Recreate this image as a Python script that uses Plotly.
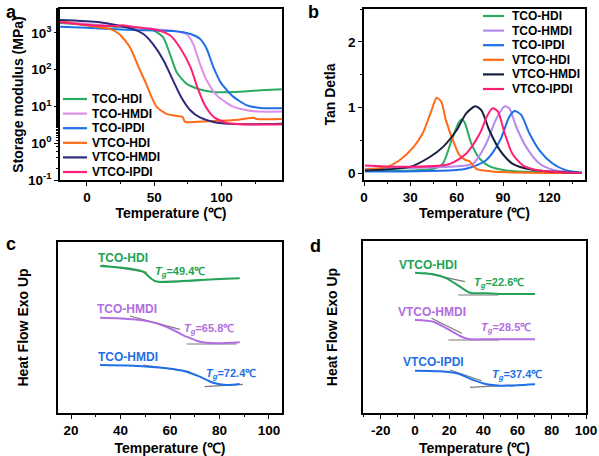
import plotly.graph_objects as go

FONT = "Arial, 'Liberation Sans', sans-serif"
W, H = 599, 456

# ---------------- data: panel a (storage modulus, MPa) ----------------
names = ["TCO-HDI", "TCO-HMDI", "TCO-IPDI", "VTCO-HDI", "VTCO-HMDI", "VTCO-IPDI"]
colors_a = ["#2bab62", "#de8eea", "#1f6fe6", "#ff6a14", "#2d2a7c", "#ff1f74"]
colors_b = ["#2bab62", "#b58af0", "#1f6fe6", "#ff6a14", "#16213e", "#ff1f74"]

a_T = [
    [-20, 0, 20, 40, 49, 56.7, 61.7, 66.7, 74, 84, 94, 109, 129, 145],
    [-20, 0, 20, 40, 64, 74, 79, 84, 89, 96.5, 109, 124, 145],
    [-20, 0, 34, 64, 77, 84, 89, 94, 100, 109, 119, 129, 145],
    [-20, 0, 17, 24, 32, 39, 44, 48, 52, 59, 69, 71, 73, 90, 110, 124, 126, 145],
    [-20, 9.5, 34, 42, 49, 57, 64, 70, 77, 84, 94, 109, 145],
    [-20, -3, 22, 26, 34, 52, 62, 69, 77, 82, 87, 94, 104, 124, 145],
]
a_logE = [
    [3.27, 3.22, 3.17, 3.12, 3.08, 2.88, 2.43, 1.93, 1.62, 1.46, 1.39, 1.39, 1.44, 1.47],
    [3.30, 3.24, 3.19, 3.13, 3.06, 2.97, 2.70, 2.16, 1.71, 1.30, 0.99, 0.87, 0.86],
    [3.17, 3.14, 3.08, 3.05, 2.97, 2.84, 2.57, 2.07, 1.62, 1.26, 1.03, 0.96, 0.95],
    [3.32, 3.20, 3.11, 2.97, 2.61, 2.02, 1.62, 1.26, 0.98, 0.80, 0.73, 0.72, 0.58, 0.60, 0.63, 0.69, 0.66, 0.66],
    [3.35, 3.29, 3.11, 2.97, 2.70, 2.25, 1.71, 1.26, 0.89, 0.70, 0.58, 0.52, 0.53],
    [3.29, 3.23, 3.19, 3.21, 3.17, 3.08, 2.93, 2.61, 2.07, 1.53, 1.08, 0.72, 0.55, 0.51, 0.51],
]
a_ytickvals = [0.1, 1, 10, 100, 1000]
a_yticktext = ["10<sup>-1</sup>", "10<sup>0</sup>", "10<sup>1</sup>", "10<sup>2</sup>", "10<sup>3</sup>"]

# ---------------- data: panel b (tan delta) ----------------
b_T = [
    [0.6, 45, 51, 56.6, 61, 63, 65, 69.5, 75, 81, 92, 141],
    [0.6, 55, 70.5, 79, 85.6, 91, 94, 98.5, 105, 113.5, 122, 141],
    [0.6, 66, 79, 88, 94, 97.4, 101.7, 107, 113.5, 122, 131, 141],
    [0.6, 14.6, 23, 32, 38, 43.7, 47, 50, 53, 57.6, 62, 66, 68, 72.7, 83, 141],
    [0.6, 29.7, 42.6, 51, 60, 66, 72, 76, 81, 88, 96, 109, 141],
    [0.6, 23, 55, 66, 75, 80, 83.4, 86.7, 91, 96, 103, 113.5, 141],
]
b_tan = [
    [0.036, 0.07, 0.15, 0.50, 0.76, 0.82, 0.78, 0.45, 0.22, 0.11, 0.045, 0.005],
    [0.07, 0.10, 0.15, 0.45, 0.83, 1.02, 0.99, 0.71, 0.40, 0.15, 0.056, 0.005],
    [0.03, 0.07, 0.20, 0.50, 0.86, 0.95, 0.89, 0.61, 0.35, 0.15, 0.046, 0.015],
    [0.056, 0.097, 0.20, 0.40, 0.61, 0.96, 1.15, 1.09, 0.81, 0.50, 0.27, 0.20, 0.19, 0.07, 0.03, 0.005],
    [0.046, 0.10, 0.25, 0.40, 0.66, 0.91, 1.02, 0.96, 0.66, 0.35, 0.15, 0.056, 0.005],
    [0.12, 0.10, 0.14, 0.30, 0.61, 0.89, 0.99, 0.94, 0.61, 0.30, 0.12, 0.046, 0.005],
]

# ---------------- data: panel c (DSC, TCO series) ----------------
c_labels = ["TCO-HDI", "TCO-HMDI", "TCO-HMDI"]
c_tg = ["49.4", "65.8", "72.4"]
c_colors = ["#22a454", "#b16ee0", "#1f6fe6"]
c_T = [
    [31.7, 38.4, 45.1, 49.2, 51.2, 53.2, 55.2, 61.3, 72.1, 88.2],
    [31.7, 45.1, 54.6, 61.3, 66.7, 72.1, 78.8, 88.2],
    [31.7, 45.1, 58.5, 66.7, 72.1, 77.4, 82.8, 88.2],
]
c_hf = [
    [14.70, 14.57, 14.37, 14.13, 13.70, 13.30, 13.13, 13.13, 13.30, 13.47],
    [9.53, 9.37, 8.97, 8.30, 7.63, 7.13, 6.97, 7.07],
    [4.80, 4.73, 4.47, 4.13, 3.63, 3.03, 2.80, 2.90],
]
c_tan_T = [[[32.4, 50.6], [53.5, 72.4]], [[43.8, 64.0], [66.7, 86.9]], [[49.2, 68.0], [74.0, 89.5]]]
c_tan_hf = [[[14.80, 14.07], [13.13, 13.23]], [[9.70, 8.37], [6.90, 6.90]], [[4.80, 4.13], [2.63, 2.87]]]
c_label_pos = [(40.8, 15.5), (42.8, 10.4), (43.2, 5.6)]
c_tg_pos = [(64.2, 14.1), (75.9, 8.4), (84.8, 3.9)]

# ---------------- data: panel d (DSC, VTCO series) ----------------
d_labels = ["VTCO-HDI", "VTCO-HMDI", "VTCO-IPDI"]
d_tg = ["22.6", "28.5", "37.4"]
d_colors = ["#22a454", "#b16ee0", "#1f6fe6"]
d_T = [
    [0, 10.7, 18.5, 26.3, 32.2, 41.9, 49.7, 70.2],
    [0, 10.7, 18.5, 26.3, 31.2, 41.9, 70.2],
    [0, 14.6, 24.4, 34.1, 41.9, 49.7, 59.5, 70.2],
]
d_hf = [
    [14.03, 13.87, 13.47, 12.63, 12.03, 11.97, 11.90, 11.90],
    [9.30, 9.13, 8.47, 7.70, 7.40, 7.37, 7.37],
    [4.23, 4.17, 3.97, 3.30, 2.87, 2.73, 2.77, 2.87],
]
d_tan_T = [[[4.9, 29.2], [25.3, 48.7]], [[9.7, 27.3], [19.5, 48.7]], [[20.5, 39.0], [32.2, 57.5]]]
d_tan_hf = [[[14.03, 13.13], [11.80, 11.80]], [[9.47, 7.97], [7.30, 7.30]], [[4.30, 3.23], [2.57, 2.80]]]
d_label_pos = [(7.6, 14.8), (9.9, 10.1), (11.1, 5.1)]
d_tg_pos = [(49.4, 13.0), (53.5, 8.5), (59.4, 3.8)]

# ---------------- figure ----------------
fig = go.Figure()

def px_x(p):
    return p / W

def px_y(p):
    return 1 - p / H

def bfont(size, color="black"):
    return dict(family=FONT, size=size, color=color, weight="bold")

# panel a
for i, n in enumerate(names):
    fig.add_trace(go.Scatter(x=a_T[i], y=[10 ** v for v in a_logE[i]], mode="lines",
                             line=dict(color=colors_a[i], width=2, shape="spline", smoothing=0.6),
                             name=n, showlegend=False, xaxis="x", yaxis="y"))
# panel b
for i, n in enumerate(names):
    fig.add_trace(go.Scatter(x=b_T[i], y=b_tan[i], mode="lines",
                             line=dict(color=colors_b[i], width=2, shape="spline", smoothing=0.7),
                             name=n, showlegend=False, xaxis="x2", yaxis="y2"))

annotations = []
shapes = []

def dsc_panel(Ts, hfs, tT, tH, labels, tgs, cols, lpos, tpos, xa, ya):
    for i in range(len(Ts)):
        for k in range(2):
            fig.add_trace(go.Scatter(x=tT[i][k], y=tH[i][k], mode="lines",
                                     line=dict(color="#7a7a7a", width=1.2),
                                     showlegend=False, xaxis=xa, yaxis=ya, hoverinfo="skip"))
        fig.add_trace(go.Scatter(x=Ts[i], y=hfs[i], mode="lines",
                                 line=dict(color=cols[i], width=2, shape="spline", smoothing=0.8),
                                 name=labels[i], showlegend=False, xaxis=xa, yaxis=ya))
        annotations.append(dict(x=lpos[i][0], y=lpos[i][1], xref=xa, yref=ya, text=labels[i],
                                showarrow=False, font=bfont(12, cols[i]),
                                xanchor="center", yanchor="middle"))
        annotations.append(dict(x=tpos[i][0], y=tpos[i][1], xref=xa, yref=ya,
                                text="<i>T<sub>g</sub></i>=" + tgs[i] + "℃",
                                showarrow=False, font=bfont(11, cols[i]),
                                xanchor="center", yanchor="middle"))

dsc_panel(c_T, c_hf, c_tan_T, c_tan_hf, c_labels, c_tg, c_colors, c_label_pos, c_tg_pos, "x3", "y3")
dsc_panel(d_T, d_hf, d_tan_T, d_tan_hf, d_labels, d_tg, d_colors, d_label_pos, d_tg_pos, "x4", "y4")

# custom legends (compact spacing as in the original)
def legend(x0, x1, xt, y0, step, cols):
    for i, n in enumerate(names):
        yy = y0 + i * step
        shapes.append(dict(type="line", xref="paper", yref="paper", x0=px_x(x0), x1=px_x(x1),
                           y0=px_y(yy), y1=px_y(yy), line=dict(color=cols[i], width=2.2)))
        annotations.append(dict(x=px_x(xt), y=px_y(yy), xref="paper", yref="paper",
                                text=n, showarrow=False, xanchor="left",
                                yanchor="middle", font=bfont(12)))

legend(63, 87, 90, 99, 14.6, colors_a)
legend(483, 504, 510, 16, 14.6, colors_b)

# panel letters
for letter, lx, ly in [("a", 4, 12), ("b", 306, 12), ("c", 4, 244), ("d", 308, 246)]:
    annotations.append(dict(x=px_x(lx), y=px_y(ly), xref="paper", yref="paper",
                            text=letter, showarrow=False, xanchor="left",
                            yanchor="middle", font=bfont(18)))

tickfont = bfont(13.5)
titlefont = bfont(14)

def axis(domain, rng, title, standoff, **kw):
    d = dict(domain=domain, range=rng, showline=True, linecolor="black", linewidth=1.6,
             mirror=True, ticks="outside", ticklen=4, tickwidth=1.3, tickcolor="black",
             showgrid=False, zeroline=False, tickfont=tickfont, automargin=False,
             title=dict(text=title, font=titlefont, standoff=standoff))
    d.update(kw)
    return d

minor_x = lambda dt: dict(ticks="outside", ticklen=2.5, tickwidth=1, tickcolor="black", dtick=dt, showgrid=False)

fig.update_layout(
    width=W, height=H, margin=dict(l=0, r=0, t=0, b=0),
    paper_bgcolor="white", plot_bgcolor="white", showlegend=False,
    font=dict(family=FONT, color="black"),
    xaxis=axis([px_x(60), px_x(282)], [-20, 145], "Temperature (℃)", 3, anchor="y",
               tickvals=[0, 50, 100], minor=minor_x(25)),
    yaxis=axis([px_y(180), px_y(9)], [-1, 3.65], "Storage modulus (MPa)", 1, anchor="x",
               type="log", tickvals=a_ytickvals, ticktext=a_yticktext,
               minor=dict(ticks="outside", ticklen=2.5, tickwidth=1, tickcolor="black", showgrid=False)),
    xaxis2=axis([px_x(364), px_x(585)], [0, 143], "Temperature (℃)", 3, anchor="y2",
                tickvals=[0, 30, 60, 90, 120], minor=minor_x(15)),
    yaxis2=axis([px_y(180), px_y(9)], [-0.1, 2.5], "Tan Detla", 9, anchor="x2",
                tickvals=[0, 1, 2], minor=dict(ticks="outside", ticklen=2.5, tickwidth=1, tickcolor="black", dtick=0.5)),
    xaxis3=axis([px_x(58), px_x(282)], [14.7, 105.3], "Temperature (℃)", 8, anchor="y3",
                tickvals=[20, 40, 60, 80, 100], minor=minor_x(10)),
    yaxis3=axis([px_y(413), px_y(242)], [0, 17.1], "Heat Flow Exo Up", 24, anchor="x3",
                showticklabels=False, ticks=""),
    xaxis4=axis([px_x(363), px_x(586)], [-30.4, 100], "Temperature (℃)", 8, anchor="y4",
                tickvals=[-20, 0, 20, 40, 60, 80, 100], ticktext=["-20", "0", "20", "40", "60", "80", "100"],
                minor=minor_x(10)),
    yaxis4=axis([px_y(413), px_y(241)], [0, 17.2], "Heat Flow Exo Up", 20, anchor="x4",
                showticklabels=False, ticks=""),
    annotations=annotations, shapes=shapes,
)

fig.write_html("out.html", config={"displayModeBar": False},
               post_script="document.body.style.margin='0';document.body.style.overflow='hidden';")
